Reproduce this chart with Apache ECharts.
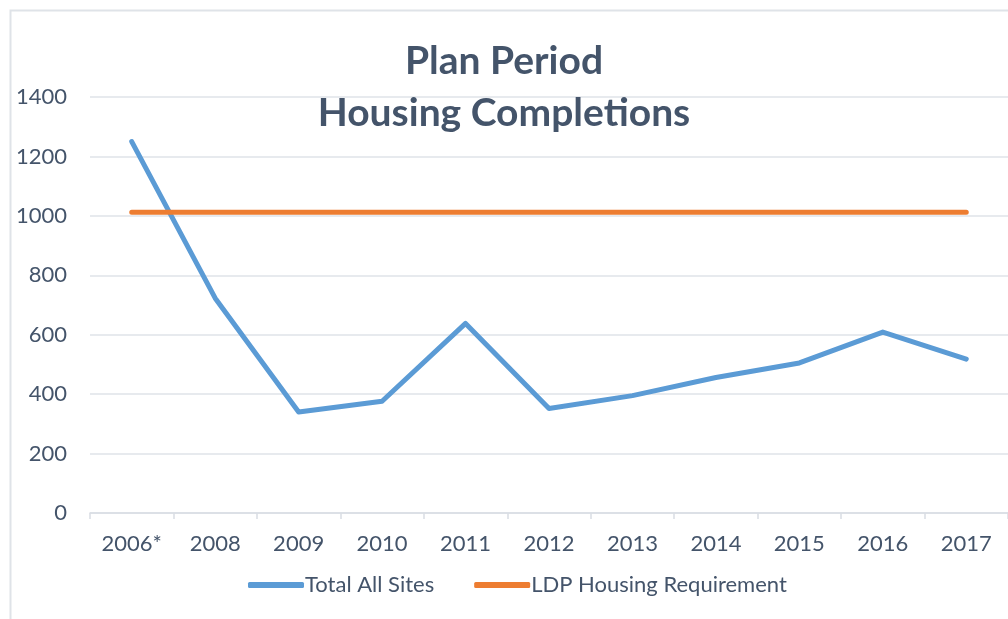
<!DOCTYPE html>
<html><head><meta charset="utf-8">
<script src="https://cdn.jsdelivr.net/npm/echarts@6/dist/echarts.min.js"></script>
<style>html,body{margin:0;padding:0;background:#fff}#c{width:1008px;height:619px}</style>
</head><body><div id="c"></div>
<script>
const categories = ['2006*','2008','2009','2010','2011','2012','2013','2014','2015','2016','2017'];
const totalAllSites = [1250, 723, 340, 376, 638, 352, 395, 456, 505, 609, 518];
const ldpRequirement = [1012, 1012, 1012, 1012, 1012, 1012, 1012, 1012, 1012, 1012, 1012];
const yTicks = [0, 200, 400, 600, 800, 1000, 1200, 1400];

const textColor = '#44546a';
const font = 'Lato';
const chart = echarts.init(document.getElementById('c'), null, {renderer: 'canvas'});
chart.setOption({
  animation: false,
  backgroundColor: '#ffffff',
  graphic: [{
    type: 'rect', left: 8, top: 8, z: -1,
    shape: {width: 1020, height: 640},
    style: {fill: 'none', stroke: '#dfe3e8', lineWidth: 2}
  }],
  title: {
    text: 'Plan Period\nHousing Completions',
    left: 'center', top: 30, padding: [5, 17, 5, 5],
    textStyle: {fontFamily: font, fontWeight: 'bold', fontSize: 39, color: textColor, lineHeight: 52}
  },
  legend: {
    bottom: 18, left: 243,
    itemWidth: 56, itemHeight: 6, itemGap: 40,
    icon: 'roundRect',
    textStyle: {fontFamily: font, fontSize: 22, color: textColor, padding: [0,0,0,-4]},
    data: ['Total All Sites', 'LDP Housing Requirement']
  },
  grid: {left: 90, right: -2, top: 97, bottom: 106, containLabel: false},
  xAxis: {
    type: 'category', data: categories, boundaryGap: true,
    axisLine: {lineStyle: {color: '#d9dde3', width: 1.5}},
    axisTick: {show: true, length: 6, lineStyle: {color: '#d9dde3', width: 1.5}},
    axisLabel: {fontFamily: font, fontSize: 22, color: textColor, margin: 20}
  },
  yAxis: {
    type: 'value', min: 0, max: 1400, interval: 200,
    axisLine: {show: false}, axisTick: {show: false},
    splitLine: {lineStyle: {color: '#dfe3e8', width: 1.5}},
    axisLabel: {fontFamily: font, fontSize: 22, color: textColor, margin: 23,
      formatter: v => yTicks.includes(v) ? String(v) : ''}
  },
  series: [
    {name: 'Total All Sites', type: 'line', data: totalAllSites, symbol: 'none',
     lineStyle: {color: '#5b9bd5', width: 5, cap: 'round', join: 'round'}, itemStyle: {color: '#5b9bd5'}},
    {name: 'LDP Housing Requirement', type: 'line', data: ldpRequirement, symbol: 'none',
     lineStyle: {color: '#ed7d31', width: 5, cap: 'round'}, itemStyle: {color: '#ed7d31'}}
  ]
});
</script></body></html>
